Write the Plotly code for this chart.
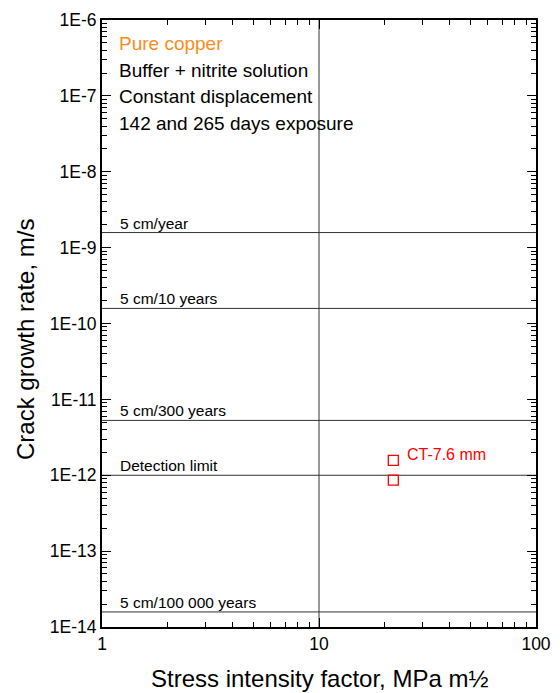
import math
import plotly.graph_objects as go

# Data
stress_intensity = [22, 22]
crack_rate = [1.57e-12, 8.6e-13]
ref_labels = ["5 cm/year", "5 cm/10 years", "5 cm/300 years", "Detection limit", "5 cm/100 000 years"]
ref_values = [1.58e-9, 1.58e-10, 5.28e-12, 1.0e-12, 1.58e-14]
vline_x = 10
x_ticks = [1, 10, 100]
x_ticktext = ["1", "10", "100"]
y_ticks = [1e-14, 1e-13, 1e-12, 1e-11, 1e-10, 1e-9, 1e-8, 1e-7, 1e-6]
y_ticktext = ["1E-14", "1E-13", "1E-12", "1E-11", "1E-10", "1E-9", "1E-8", "1E-7", "1E-6"]
info_lines = ["Pure copper", "Buffer + nitrite solution", "Constant displacement", "142 and 265 days exposure"]
series_label = "CT-7.6 mm"
series_label_pos = (25, 1.85e-12)

FONT = "Liberation Sans, Arial, sans-serif"
LINE_COL = "#333333"
PLOT_H = 607

x_minor = [m * 10 ** e for e in range(0, 2) for m in range(2, 10)]
y_minor = [m * 10.0 ** e for e in range(-14, -6) for m in range(2, 10)]

fig = go.Figure()

for lab, v in zip(ref_labels, ref_values):
    fig.add_trace(go.Scatter(x=[1, 100], y=[v, v], mode="lines",
                             line=dict(color=LINE_COL, width=1), showlegend=False, hoverinfo="skip"))
    fig.add_annotation(x=math.log10(1.19), y=math.log10(v), xref="x", yref="y", text=lab, showarrow=False,
                       xanchor="left", yanchor="bottom", yshift=-1,
                       font=dict(family=FONT, size=15.5, color="black"))

fig.add_trace(go.Scatter(x=[vline_x, vline_x], y=[1e-14, 1e-6], mode="lines",
                         line=dict(color=LINE_COL, width=1), showlegend=False, hoverinfo="skip"))

fig.add_trace(go.Scatter(x=stress_intensity, y=crack_rate, mode="markers",
                         marker=dict(symbol="square-open", size=10, color="red", line=dict(width=1.3)),
                         showlegend=False))
fig.add_annotation(x=math.log10(series_label_pos[0]), y=math.log10(series_label_pos[1]), xref="x", yref="y",
                   text=series_label, showarrow=False,
                   xanchor="left", yanchor="middle", font=dict(family=FONT, size=16, color="red"))

# invisible traces on minor-tick overlay axes
for xa, ya in [("x2", "y2"), ("x3", "y3")]:
    fig.add_trace(go.Scatter(x=[1], y=[1e-10], xaxis=xa, yaxis=ya, mode="markers",
                             marker=dict(opacity=0), showlegend=False, hoverinfo="skip"))

info_colors = ["#ff8c1a", "black", "black", "black"]
for i, (t, c) in enumerate(zip(info_lines, info_colors)):
    fig.add_annotation(x=15 / 434, y=1 - (23.5 + 26.7 * i) / PLOT_H, xref="paper", yref="paper", text=t,
                       showarrow=False, xanchor="left", yanchor="middle",
                       font=dict(family=FONT, size=19, color=c))

# axis titles as annotations (positioned like the reference)
fig.add_annotation(x=-77 / 434, y=1 - (340 - 20) / PLOT_H, xref="paper", yref="paper",
                   text="Crack growth rate, m/s", textangle=-90, showarrow=False,
                   xanchor="center", yanchor="middle", font=dict(family=FONT, size=24, color="black"))
fig.add_annotation(x=0.5, y=-(678 - 627) / PLOT_H, xref="paper", yref="paper",
                   text="Stress intensity factor, MPa m½", showarrow=False,
                   xanchor="center", yanchor="middle", font=dict(family=FONT, size=24, color="black"))

fig.update_xaxes(type="log", range=[0, 2], tickmode="array", tickvals=x_ticks, ticktext=x_ticktext,
                 ticks="inside", ticklen=9, tickcolor="black", tickwidth=1.2, mirror="allticks", automargin=False,
                 showline=True, linecolor="black", linewidth=2, showgrid=False, zeroline=False,
                 tickfont=dict(family=FONT, size=17.5, color="black"))
fig.update_yaxes(type="log", range=[-14, -6], tickmode="array", tickvals=y_ticks, ticktext=y_ticktext,
                 ticks="inside", ticklen=9, tickcolor="black", tickwidth=1.2, mirror="allticks", automargin=False,
                 showline=True, linecolor="black", linewidth=2, showgrid=False, zeroline=False,
                 tickfont=dict(family=FONT, size=17.5, color="black"))

minor_x = dict(type="log", range=[0, 2], overlaying="x", anchor="y", tickmode="array", tickvals=x_minor,
               showticklabels=False, ticks="inside", ticklen=5, tickcolor="black", tickwidth=1.2,
               showline=False, showgrid=False, zeroline=False, automargin=False)
minor_y = dict(type="log", range=[-14, -6], overlaying="y", anchor="x", tickmode="array", tickvals=y_minor,
               showticklabels=False, ticks="inside", ticklen=5, tickcolor="black", tickwidth=1.2,
               showline=False, showgrid=False, zeroline=False, automargin=False)

fig.update_layout(
    xaxis2=dict(minor_x, side="bottom"),
    xaxis3=dict(minor_x, side="top"),
    yaxis2=dict(minor_y, side="left"),
    yaxis3=dict(minor_y, side="right"),
    width=560, height=693, margin=dict(l=102, r=24, t=20, b=66),
    plot_bgcolor="white", paper_bgcolor="white")

fig.write_html("out.html")
